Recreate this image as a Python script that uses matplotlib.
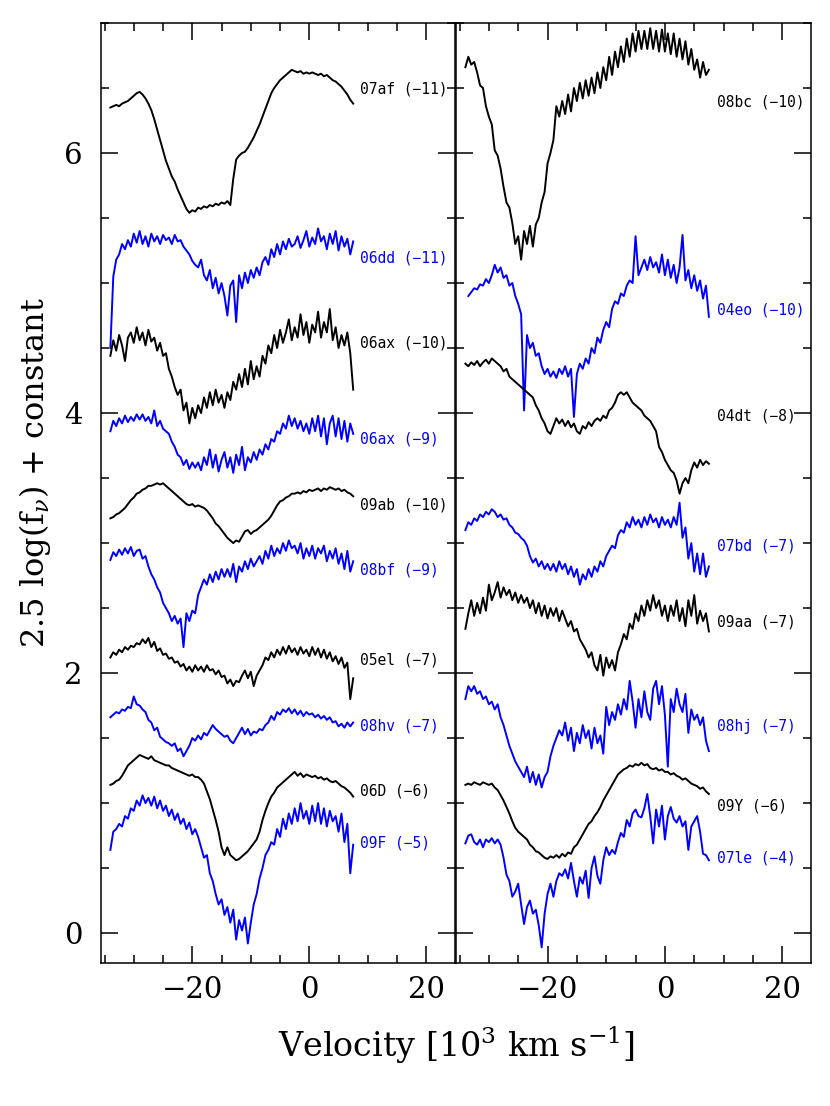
import numpy as np
import matplotlib.pyplot as plt
from matplotlib.ticker import MultipleLocator

plt.rcParams['font.family'] = 'DejaVu Serif'
plt.rcParams['mathtext.fontset'] = 'dejavuserif'

nan = np.nan
# velocity sampling (10^3 km/s), 0.5 steps from -34 to 7.5
vel = np.arange(-34.0, 7.51, 0.5)

# ---- left panel spectra ----
f_07af = [6.35, 6.36, 6.37, 6.36, 6.38, 6.39, 6.40, 6.42, 6.44, 6.46,
          6.47, 6.45, 6.42, 6.38, 6.33, 6.26, 6.18, 6.10, 6.02, 5.94,
          5.88, 5.82, 5.78, 5.72, 5.67, 5.62, 5.57, 5.54, 5.56, 5.55,
          5.58, 5.57, 5.59, 5.58, 5.60, 5.59, 5.61, 5.60, 5.62, 5.61,
          5.63, 5.60, 5.80, 5.95, 5.98, 6.00, 6.01, 6.04, 6.08, 6.12,
          6.17, 6.22, 6.28, 6.34, 6.40, 6.46, 6.50, 6.53, 6.56, 6.58,
          6.60, 6.62, 6.64, 6.63, 6.62, 6.63, 6.61, 6.62, 6.61, 6.62,
          6.61, 6.60, 6.61, 6.59, 6.60, 6.58, 6.56, 6.55, 6.53, 6.51,
          6.48, 6.45, 6.41, 6.38]
f_06dd = [4.50, 5.05, 5.18, 5.22, 5.30, 5.26, 5.33, 5.28, 5.38, 5.31,
          5.40, 5.30, 5.36, 5.28, 5.38, 5.32, 5.36, 5.30, 5.37, 5.33,
          5.35, 5.30, 5.37, 5.32, 5.33, 5.28, 5.25, 5.22, 5.17, 5.14,
          5.12, 5.18, 5.06, 5.02, 5.10, 4.96, 5.04, 4.92, 5.00, 4.90,
          4.75, 4.98, 5.02, 4.70, 5.06, 4.96, 5.08, 5.00, 5.10, 5.04,
          5.12, 5.06, 5.16, 5.20, 5.14, 5.26, 5.20, 5.30, 5.22, 5.32,
          5.26, 5.34, 5.28, 5.30, 5.36, 5.27, 5.33, 5.40, 5.28, 5.35,
          5.30, 5.42, 5.32, 5.36, 5.26, 5.38, 5.30, 5.40, 5.25, 5.36,
          5.28, 5.34, 5.22, 5.32]
f_06ax10 = [4.44, 4.56, 4.48, 4.60, 4.52, 4.40, 4.58, 4.62, 4.54, 4.66,
            4.56, 4.62, 4.52, 4.64, 4.55, 4.58, 4.48, 4.54, 4.44, 4.46,
            4.34, 4.28, 4.20, 4.14, 4.18, 4.02, 4.08, 3.92, 4.04, 3.96,
            4.06, 4.00, 4.12, 4.04, 4.16, 4.06, 4.18, 4.08, 4.14, 4.04,
            4.16, 4.10, 4.24, 4.18, 4.30, 4.20, 4.34, 4.22, 4.40, 4.26,
            4.36, 4.28, 4.44, 4.38, 4.52, 4.46, 4.60, 4.50, 4.64, 4.54,
            4.62, 4.72, 4.56, 4.66, 4.58, 4.76, 4.60, 4.70, 4.54, 4.68,
            4.62, 4.78, 4.58, 4.70, 4.62, 4.80, 4.56, 4.66, 4.50, 4.60,
            4.52, 4.62, 4.46, 4.18]
f_06ax9 = [3.86, 3.94, 3.90, 3.96, 3.92, 3.98, 3.93, 3.97, 3.94, 3.99,
           3.95, 3.99, 3.94, 3.97, 3.92, 4.02, 3.90, 3.94, 3.88, 3.86,
           3.84, 3.78, 3.74, 3.68, 3.66, 3.60, 3.64, 3.57, 3.62, 3.58,
           3.62, 3.56, 3.66, 3.60, 3.72, 3.58, 3.68, 3.55, 3.64, 3.70,
           3.58, 3.66, 3.54, 3.68, 3.60, 3.74, 3.56, 3.66, 3.62, 3.70,
           3.64, 3.72, 3.68, 3.76, 3.72, 3.80, 3.78, 3.86, 3.84, 3.92,
           3.88, 3.98, 3.90, 3.96, 3.88, 3.94, 3.86, 3.92, 3.84, 3.96,
           3.86, 3.98, 3.82, 3.96, 3.76, 3.92, 3.98, 3.82, 3.96, 3.80,
           3.94, 3.78, 3.92, 3.84]
f_09ab = [3.19, 3.20, 3.22, 3.23, 3.25, 3.27, 3.30, 3.33, 3.35, 3.38,
          3.39, 3.41, 3.42, 3.44, 3.44, 3.45, 3.46, 3.45, 3.46, 3.44,
          3.42, 3.40, 3.38, 3.36, 3.34, 3.32, 3.30, 3.29, 3.30, 3.28,
          3.29, 3.28, 3.27, 3.25, 3.22, 3.19, 3.15, 3.13, 3.10, 3.07,
          3.04, 3.02, 3.00, 3.02, 3.01, 3.05, 3.09, 3.10, 3.07, 3.09,
          3.10, 3.12, 3.14, 3.16, 3.18, 3.21, 3.25, 3.29, 3.32, 3.33,
          3.35, 3.36, 3.38, 3.38, 3.39, 3.38, 3.40, 3.39, 3.41, 3.40,
          3.41, 3.42, 3.40, 3.42, 3.41, 3.43, 3.42, 3.41, 3.42, 3.40,
          3.41, 3.39, 3.38, 3.36]
f_08bf = [2.87, 2.93, 2.90, 2.95, 2.91, 2.96, 2.92, 2.97, 2.90, 2.94,
          2.95, 2.88, 2.90, 2.82, 2.76, 2.72, 2.66, 2.62, 2.54, 2.50,
          2.46, 2.40, 2.44, 2.38, 2.42, 2.20, 2.46, 2.40, 2.48, 2.46,
          2.60, 2.66, 2.72, 2.68, 2.76, 2.70, 2.78, 2.72, 2.80, 2.74,
          2.80, 2.74, 2.84, 2.70, 2.82, 2.78, 2.86, 2.80, 2.88, 2.82,
          2.86, 2.90, 2.84, 2.94, 2.88, 2.98, 2.90, 2.96, 2.92, 3.00,
          2.94, 3.02, 2.96, 2.98, 2.92, 3.00, 2.88, 2.96, 2.90, 2.98,
          2.88, 2.96, 2.92, 2.98, 2.86, 2.94, 2.88, 2.96, 2.84, 2.92,
          2.80, 2.94, 2.78, 2.86]
f_05el = [2.12, 2.16, 2.14, 2.18, 2.16, 2.20, 2.18, 2.21, 2.20, 2.23,
          2.22, 2.26, 2.23, 2.27, 2.20, 2.24, 2.17, 2.19, 2.14, 2.15,
          2.11, 2.12, 2.08, 2.09, 2.05, 2.07, 2.02, 2.05, 2.01, 2.06,
          2.02, 2.05, 2.01, 2.06, 2.02, 2.03, 1.99, 2.02, 1.97, 1.98,
          1.92, 1.95, 1.90, 1.94, 1.93, 1.98, 2.02, 1.96, 2.01, 1.90,
          1.98, 2.02, 2.06, 2.12, 2.10, 2.16, 2.12, 2.18, 2.14, 2.20,
          2.15, 2.21, 2.16, 2.19, 2.14, 2.20, 2.15, 2.18, 2.13, 2.20,
          2.14, 2.19, 2.12, 2.18, 2.11, 2.16, 2.09, 2.13, 2.07, 2.12,
          2.04, 2.08, 1.80, 1.96]
f_08hv = [1.66, 1.68, 1.70, 1.69, 1.72, 1.71, 1.74, 1.73, 1.82, 1.76,
          1.75, 1.72, 1.70, 1.64, 1.62, 1.56, 1.58, 1.51, 1.49, 1.47,
          1.46, 1.44, 1.46, 1.40, 1.42, 1.36, 1.40, 1.44, 1.50, 1.48,
          1.52, 1.49, 1.54, 1.52, 1.56, 1.60, 1.57, 1.55, 1.53, 1.51,
          1.52, 1.48, 1.46, 1.50, 1.54, 1.58, 1.53, 1.57, 1.52, 1.55,
          1.54, 1.57, 1.56, 1.60, 1.62, 1.67, 1.64, 1.70, 1.68, 1.72,
          1.70, 1.73, 1.69, 1.72, 1.68, 1.71, 1.67, 1.70, 1.68, 1.69,
          1.66, 1.68, 1.65, 1.67, 1.64, 1.66, 1.62, 1.63, 1.59, 1.61,
          1.58, 1.62, 1.59, 1.62]
f_06D = [1.14, 1.15, 1.17, 1.18, 1.21, 1.25, 1.29, 1.31, 1.33, 1.35,
         1.37, 1.36, 1.35, 1.34, 1.36, 1.33, 1.32, 1.31, 1.30, 1.29,
         1.29, 1.27, 1.26, 1.25, 1.24, 1.23, 1.22, 1.21, 1.22, 1.20,
         1.20, 1.18, 1.15, 1.09, 1.03, 0.95, 0.87, 0.78, 0.66, 0.60,
         0.66, 0.60, 0.58, 0.56, 0.57, 0.59, 0.61, 0.63, 0.66, 0.69,
         0.72, 0.78, 0.87, 0.94, 1.00, 1.05, 1.08, 1.12, 1.14, 1.16,
         1.18, 1.20, 1.22, 1.24, 1.21, 1.23, 1.20, 1.22, 1.21, 1.20,
         1.21, 1.19, 1.20, 1.18, 1.19, 1.17, 1.16, 1.17, 1.15, 1.13,
         1.12, 1.10, 1.08, 1.05]
f_09F = [0.64, 0.78, 0.80, 0.84, 0.82, 0.90, 0.88, 0.96, 0.94, 1.02,
         0.98, 1.06, 1.00, 1.04, 0.98, 1.05, 0.96, 1.02, 0.94, 0.98,
         0.90, 0.95, 0.87, 0.92, 0.84, 0.88, 0.80, 0.85, 0.76, 0.80,
         0.74, 0.66, 0.58, 0.60, 0.46, 0.40, 0.30, 0.22, 0.26, 0.14,
         0.20, 0.08, 0.18, -0.05, 0.10, 0.02, 0.12, -0.08, 0.08, 0.22,
         0.30, 0.42, 0.50, 0.60, 0.64, 0.70, 0.68, 0.80, 0.74, 0.88,
         0.80, 0.92, 0.84, 0.96, 0.86, 1.00, 0.88, 0.94, 0.84, 0.98,
         0.86, 1.00, 0.84, 0.96, 0.82, 0.94, 0.86, 0.90, 0.78, 0.92,
         0.70, 0.84, 0.46, 0.68]

# ---- right panel spectra ----
f_08bc = [6.66, 6.74, 6.68, 6.70, 6.62, 6.52, 6.50, 6.36, 6.28, 6.22,
          6.02, 5.98, 5.88, 5.74, 5.62, 5.58, 5.46, 5.30, 5.36, 5.18,
          5.40, 5.30, 5.44, 5.28, 5.45, 5.50, 5.62, 5.70, 5.92, 6.00,
          6.10, 6.36, 6.28, 6.40, 6.30, 6.45, 6.32, 6.50, 6.40, 6.54,
          6.42, 6.56, 6.44, 6.58, 6.46, 6.62, 6.50, 6.66, 6.56, 6.74,
          6.60, 6.78, 6.66, 6.82, 6.70, 6.88, 6.74, 6.92, 6.78, 6.94,
          6.80, 6.94, 6.80, 6.96, 6.80, 6.94, 6.78, 6.95, 6.78, 6.92,
          6.76, 6.92, 6.74, 6.88, 6.72, 6.86, 6.68, 6.80, 6.64, 6.72,
          6.58, 6.70, 6.60, 6.64]
f_04eo = [nan, 4.90, 4.93, 4.96, 4.95, 4.99, 4.98, 5.03, 5.00, 5.06,
          5.14, 5.08, 5.12, 5.04, 5.06, 4.98, 5.00, 4.90, 4.84, 4.76,
          4.02, 4.60, 4.50, 4.54, 4.44, 4.46, 4.36, 4.30, 4.34, 4.28,
          4.32, 4.27, 4.34, 4.30, 4.36, 4.28, 4.34, 3.97, 4.30, 4.38,
          4.34, 4.42, 4.38, 4.50, 4.46, 4.58, 4.54, 4.64, 4.70, 4.66,
          4.80, 4.86, 4.84, 4.92, 4.90, 4.98, 5.02, 5.00, 5.36, 5.06,
          5.12, 5.18, 5.10, 5.20, 5.12, 5.16, 5.08, 5.22, 5.06, 5.18,
          5.04, 5.14, 5.00, 5.12, 5.37, 5.02, 5.10, 4.96, 5.06, 4.94,
          5.02, 4.88, 4.98, 4.74]
f_04dt = [4.38, 4.36, 4.39, 4.37, 4.40, 4.36, 4.39, 4.41, 4.38, 4.42,
          4.40, 4.38, 4.36, 4.32, 4.34, 4.28, 4.26, 4.24, 4.22, 4.20,
          4.18, 4.16, 4.14, 4.12, 4.06, 4.02, 3.96, 3.92, 3.86, 3.84,
          3.90, 3.96, 3.92, 3.95, 3.90, 3.94, 3.89, 3.92, 3.86, 3.84,
          3.90, 3.88, 3.93, 3.90, 3.94, 3.96, 3.94, 3.98, 3.96, 4.02,
          4.04, 4.08, 4.14, 4.16, 4.14, 4.16, 4.12, 4.08, 4.06, 4.04,
          4.02, 3.98, 3.96, 3.94, 3.90, 3.86, 3.74, 3.70, 3.64, 3.60,
          3.56, 3.54, 3.48, 3.38, 3.46, 3.50, 3.46, 3.56, 3.62, 3.58,
          3.64, 3.60, 3.63, 3.61]
f_07bd = [3.10, 3.16, 3.14, 3.19, 3.17, 3.22, 3.20, 3.24, 3.22, 3.26,
          3.24, 3.20, 3.22, 3.18, 3.19, 3.14, 3.12, 3.08, 3.07, 3.04,
          3.02, 2.98, 2.90, 2.85, 2.88, 2.82, 2.86, 2.80, 2.84, 2.79,
          2.84, 2.78, 2.86, 2.80, 2.84, 2.76, 2.82, 2.74, 2.80, 2.68,
          2.76, 2.72, 2.80, 2.74, 2.82, 2.78, 2.86, 2.82, 2.90, 2.94,
          2.98, 2.96, 3.06, 3.10, 3.08, 3.16, 3.12, 3.20, 3.14, 3.18,
          3.12, 3.20, 3.14, 3.22, 3.16, 3.19, 3.12, 3.20, 3.14, 3.18,
          3.12, 3.20, 3.14, 3.31, 3.04, 3.12, 2.88, 3.00, 2.78, 2.92,
          2.76, 2.92, 2.74, 2.82]
f_09aa = [2.34, 2.46, 2.56, 2.44, 2.54, 2.46, 2.58, 2.48, 2.68, 2.56,
          2.62, 2.70, 2.58, 2.66, 2.60, 2.64, 2.56, 2.62, 2.54, 2.60,
          2.54, 2.58, 2.50, 2.56, 2.46, 2.54, 2.44, 2.52, 2.42, 2.50,
          2.44, 2.50, 2.40, 2.48, 2.42, 2.36, 2.40, 2.32, 2.34, 2.26,
          2.22, 2.18, 2.12, 2.16, 2.06, 2.02, 2.14, 1.98, 2.12, 2.04,
          2.10, 2.02, 2.16, 2.22, 2.30, 2.26, 2.38, 2.34, 2.46, 2.40,
          2.52, 2.44, 2.56, 2.48, 2.60, 2.50, 2.56, 2.44, 2.52, 2.40,
          2.52, 2.44, 2.56, 2.40, 2.50, 2.36, 2.56, 2.44, 2.60, 2.38,
          2.48, 2.40, 2.46, 2.32]
f_08hj = [1.80, 1.90, 1.86, 1.90, 1.84, 1.86, 1.80, 1.82, 1.76, 1.78,
          1.72, 1.76, 1.66, 1.60, 1.52, 1.44, 1.38, 1.32, 1.28, 1.24,
          1.20, 1.28, 1.16, 1.24, 1.14, 1.22, 1.12, 1.20, 1.24, 1.36,
          1.44, 1.50, 1.56, 1.52, 1.62, 1.48, 1.58, 1.40, 1.54, 1.46,
          1.60, 1.50, 1.56, 1.42, 1.58, 1.46, 1.52, 1.38, 1.74, 1.60,
          1.70, 1.64, 1.76, 1.68, 1.80, 1.72, 1.94, 1.78, 1.58, 1.80,
          1.66, 1.86, 1.70, 1.64, 1.88, 1.94, 1.76, 1.90, 1.68, 1.28,
          1.80, 1.70, 1.88, 1.76, 1.70, 1.84, 1.54, 1.72, 1.64, 1.68,
          1.60, 1.66, 1.48, 1.40]
f_09Y = [1.14, 1.15, 1.14, 1.16, 1.15, 1.14, 1.16, 1.15, 1.14, 1.15,
         1.12, 1.10, 1.06, 1.02, 0.97, 0.92, 0.86, 0.81, 0.78, 0.76,
         0.74, 0.72, 0.68, 0.66, 0.63, 0.62, 0.60, 0.58, 0.57, 0.59,
         0.58, 0.60, 0.58, 0.61, 0.59, 0.62, 0.61, 0.66, 0.68, 0.72,
         0.76, 0.80, 0.84, 0.86, 0.90, 0.93, 0.97, 1.02, 1.06, 1.10,
         1.14, 1.18, 1.22, 1.24, 1.26, 1.27, 1.29, 1.28, 1.30, 1.29,
         1.31, 1.29, 1.30, 1.27, 1.26, 1.27, 1.25, 1.26, 1.24, 1.24,
         1.22, 1.23, 1.21, 1.20, 1.18, 1.19, 1.17, 1.15, 1.14, 1.13,
         1.11, 1.12, 1.09, 1.07]
f_07le = [0.69, 0.75, 0.76, 0.70, 0.68, 0.72, 0.66, 0.72, 0.70, 0.73,
          0.69, 0.72, 0.68, 0.58, 0.45, 0.40, 0.28, 0.32, 0.38, 0.22,
          0.07, 0.20, 0.25, 0.15, 0.18, 0.06, -0.11, 0.15, 0.30, 0.38,
          0.28, 0.40, 0.46, 0.44, 0.49, 0.42, 0.54, 0.40, 0.28, 0.43,
          0.38, 0.48, 0.27, 0.50, 0.59, 0.44, 0.38, 0.56, 0.66, 0.60,
          0.64, 0.61, 0.70, 0.77, 0.74, 0.87, 0.82, 0.92, 0.95, 0.90,
          0.89, 0.96, 1.07, 0.90, 0.69, 0.95, 0.82, 0.98, 0.72, 0.90,
          0.97, 0.88, 0.85, 0.90, 0.82, 0.86, 0.64, 0.82, 0.86, 0.90,
          0.78, 0.61, 0.60, 0.56]

left_spec = [f_07af, f_06dd, f_06ax10, f_06ax9, f_09ab, f_08bf, f_05el, f_08hv, f_06D, f_09F]
left_names = ['07af (\u221211)', '06dd (\u221211)', '06ax (\u221210)', '06ax (\u22129)', '09ab (\u221210)',
              '08bf (\u22129)', '05el (\u22127)', '08hv (\u22127)', '06D (\u22126)', '09F (\u22125)']
left_label_y = [6.49, 5.19, 4.54, 3.80, 3.29, 2.79, 2.10, 1.59, 1.09, 0.69]

right_spec = [f_08bc, f_04eo, f_04dt, f_07bd, f_09aa, f_08hj, f_09Y, f_07le]
right_names = ['08bc (\u221210)', '04eo (\u221210)', '04dt (\u22128)', '07bd (\u22127)', '09aa (\u22127)',
               '08hj (\u22127)', '09Y (\u22126)', '07le (\u22124)']
right_label_y = [6.39, 4.79, 3.98, 2.98, 2.39, 1.59, 0.98, 0.58]

W, H = 830, 1106
fig = plt.figure(figsize=(W/100.0, H/100.0), dpi=100, facecolor='white')
ax1 = fig.add_axes([101.0/W, (H-963.0)/H, 354.0/W, 940.0/H])
ax2 = fig.add_axes([456.0/W, (H-963.0)/H, 355.0/W, 940.0/H])

def style(ax, show_y):
	ax.set_xlim(-35.6, 24.9); ax.set_ylim(-0.23, 7.0)
	ax.xaxis.set_major_locator(MultipleLocator(20)); ax.xaxis.set_minor_locator(MultipleLocator(5))
	ax.yaxis.set_major_locator(MultipleLocator(2)); ax.yaxis.set_minor_locator(MultipleLocator(0.5))
	ax.tick_params(which='both', direction='in', top=True, right=True, width=1.1)
	ax.tick_params(which='major', length=12, labelsize=21)
	ax.tick_params(which='minor', length=6)
	ax.tick_params(axis='x', pad=9); ax.tick_params(axis='y', pad=13)
	if not show_y: ax.tick_params(axis='y', labelleft=False)
	for s in ax.spines.values(): s.set_linewidth(1.1)

def draw(ax, specs, names, label_y, xlab):
	for i in range(len(specs)):
		c = 'k' if i % 2 == 0 else 'b'
		ax.plot(vel, specs[i], '-', color=c, linewidth=1.4)
		ax.text(xlab, label_y[i], names[i], color=c, fontsize=10.5, family='DejaVu Sans Mono',
			ha='left', va='center')

style(ax1, True); style(ax2, False)
draw(ax1, left_spec, left_names, left_label_y, 8.7)
draw(ax2, right_spec, right_names, right_label_y, 8.9)

fig.text(35.0/W, 1-472.0/H, r'2.5 log(f$_{\nu}$) + constant', rotation=90, ha='center', va='center', fontsize=23)
fig.text(456.0/W, 1-1045.0/H, r'Velocity [10$^{3}$ km s$^{-1}$]', ha='center', va='center', fontsize=24)

plt.savefig('out.png', dpi=100, facecolor='white')
